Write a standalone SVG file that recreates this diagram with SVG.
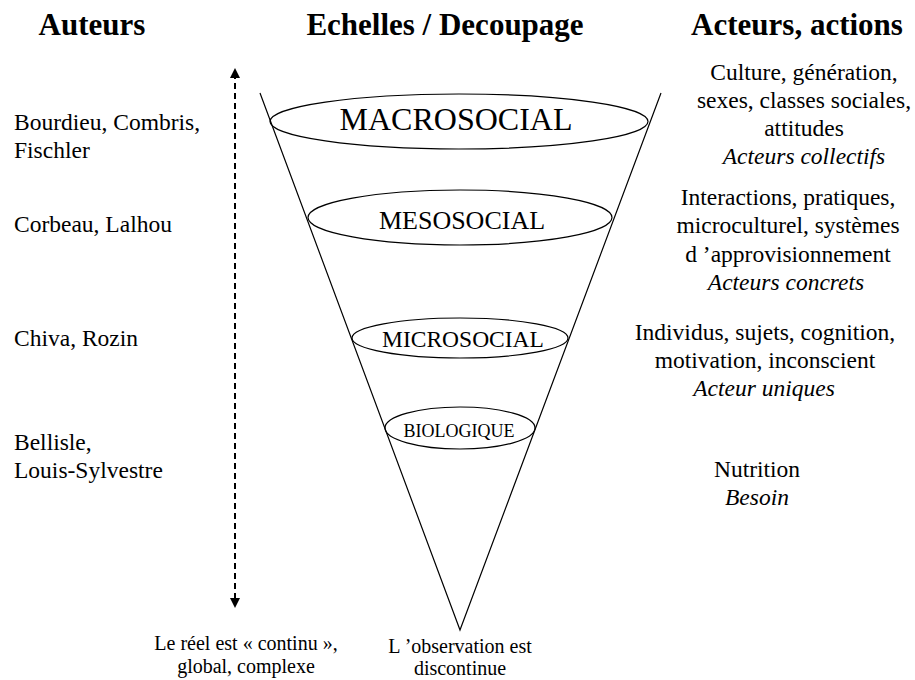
<svg xmlns="http://www.w3.org/2000/svg" width="915" height="680" viewBox="0 0 915 680">
<style>
text{font-family:"Liberation Serif","Times New Roman",serif;fill:#000}
.hdr{font-size:31px;font-weight:bold;text-anchor:middle}
.lbl{font-size:23.5px}
.mid{text-anchor:middle}
.ita{font-style:italic}
.small{font-size:20px;text-anchor:middle}
.ell{fill:none;stroke:#000;stroke-width:1.2}
.cone{stroke:#000;stroke-width:1.2;fill:none}
</style>
<defs>
<marker id="ah" viewBox="0 0 10 10" refX="5" refY="5" markerWidth="5" markerHeight="5" orient="auto-start-reverse" markerUnits="strokeWidth">
<path d="M0,0 L10,5 L0,10 z" fill="#000"/>
</marker>
</defs>
<rect width="915" height="680" fill="#fff"/>
<g id="headers">
<text class="hdr" x="92" y="35">Auteurs</text>
<text class="hdr" x="445" y="35">Echelles / Decoupage</text>
<text class="hdr" x="797" y="35">Acteurs, actions</text>
</g>
<g id="connectors">
<line x1="235" y1="73" x2="235" y2="603" stroke="#000" stroke-width="2" stroke-dasharray="6,4" marker-start="url(#ah)" marker-end="url(#ah)"/>
<polyline class="cone" points="260,93 460,630 661,93"/>
</g>
<g id="macrosocial">
<ellipse class="ell" cx="459" cy="121.5" rx="189" ry="27.5"/>
<text class="mid" x="456" y="130" font-size="32">MACROSOCIAL</text>
</g>
<g id="mesosocial">
<ellipse class="ell" cx="460" cy="217.5" rx="152" ry="27.5"/>
<text class="mid" x="462" y="229" font-size="26">MESOSOCIAL</text>
</g>
<g id="microsocial">
<ellipse class="ell" cx="460" cy="338" rx="108" ry="20"/>
<text class="mid" x="463" y="347" font-size="23.5">MICROSOCIAL</text>
</g>
<g id="biologique">
<ellipse class="ell" cx="460" cy="428" rx="75" ry="21"/>
<text class="mid" x="459" y="437" font-size="18">BIOLOGIQUE</text>
</g>
<g id="auteurs">
<text class="lbl" x="14" y="130">Bourdieu, Combris,</text>
<text class="lbl" x="14" y="158">Fischler</text>
<text class="lbl" x="14" y="232">Corbeau, Lalhou</text>
<text class="lbl" x="14" y="346">Chiva, Rozin</text>
<text class="lbl" x="14" y="450">Bellisle,</text>
<text class="lbl" x="14" y="478">Louis-Sylvestre</text>
</g>
<g id="acteurs-macro">
<text class="lbl mid" x="804" y="80">Culture, génération,</text>
<text class="lbl mid" x="804" y="108">sexes, classes sociales,</text>
<text class="lbl mid" x="804" y="136">attitudes</text>
<text class="lbl mid ita" x="804" y="164">Acteurs collectifs</text>
</g>
<g id="acteurs-meso">
<text class="lbl mid" x="788" y="205">Interactions, pratiques,</text>
<text class="lbl mid" x="788" y="233">microculturel, systèmes</text>
<text class="lbl mid" x="788" y="262">d ’approvisionnement</text>
<text class="lbl mid ita" x="786" y="290">Acteurs concrets</text>
</g>
<g id="acteurs-micro">
<text class="lbl mid" x="765" y="340">Individus, sujets, cognition,</text>
<text class="lbl mid" x="765" y="368">motivation, inconscient</text>
<text class="lbl mid ita" x="764" y="396">Acteur uniques</text>
</g>
<g id="acteurs-bio">
<text class="lbl mid" x="757" y="477">Nutrition</text>
<text class="lbl mid ita" x="757" y="505">Besoin</text>
</g>
<g id="bottom">
<text class="small" x="246" y="650">Le réel est « continu »,</text>
<text class="small" x="246" y="673">global, complexe</text>
<text class="small" x="460" y="653">L ’observation est</text>
<text class="small" x="460" y="675">discontinue</text>
</g>
</svg>
